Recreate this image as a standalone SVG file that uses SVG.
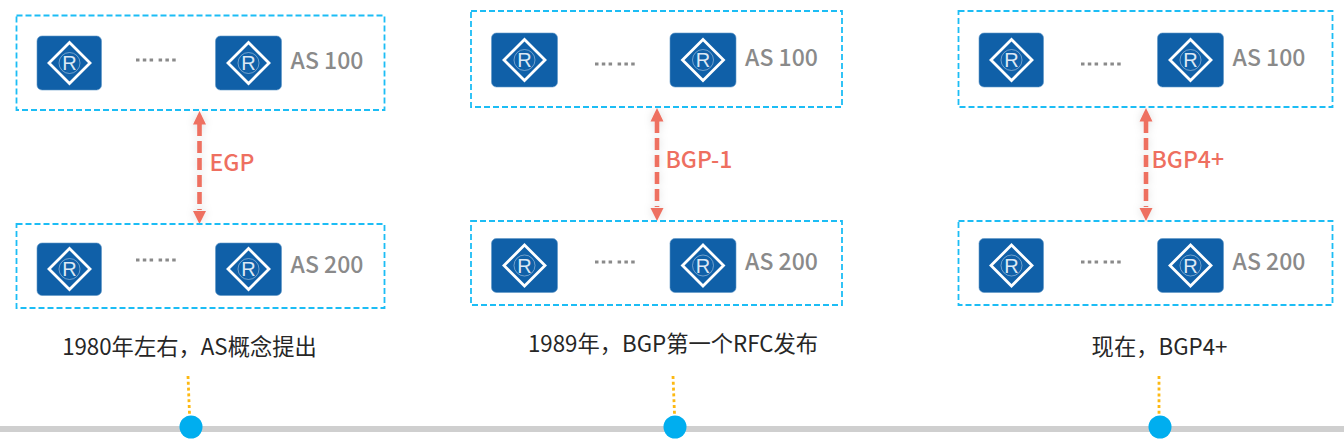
<svg xmlns="http://www.w3.org/2000/svg" width="1344" height="446" viewBox="0 0 1344 446">
<style>
text{font-family:"Noto Sans CJK SC","Noto Sans","Liberation Sans",sans-serif}
.as{fill:none;stroke:#1cbdf5;stroke-width:1.8;stroke-dasharray:6 3}
.rb{fill:#1060a8;stroke:#5f97c8;stroke-width:.6}
.dm{fill:none;stroke:#fff;stroke-width:2.800}
.rc{fill:none;stroke:#cfe0f0;stroke-width:1;opacity:.5}
.rt{font-family:"Liberation Sans",sans-serif;font-size:20px;fill:#dce8f4;text-anchor:middle}
.dots{fill:none;stroke:#8a8a8a;stroke-width:2.800;stroke-dasharray:3.500 3.300 3.500 3.300 3.500 5.500}
.lb{font-size:23px;font-weight:500;fill:#8a8a8a;text-anchor:middle}
.pr{font-size:23px;font-weight:500;fill:#ee6f60}
.cap{font-size:22.300px;fill:#262626;text-anchor:middle}
.br{fill:none;stroke:#ee6f60;stroke-width:4.600;stroke-dasharray:12 5}
.hd{fill:#ee6f60}
.dt{fill:none;stroke:#fdb913;stroke-width:2.800;stroke-dasharray:3 2.800}
.tm{fill:#00aeef}
</style>
<defs>
<filter id="sh" x="-300%" y="-10%" width="700%" height="120%"><feDropShadow dx="0" dy="0" stdDeviation="4" flood-color="#000" flood-opacity=".14"/></filter>
<g id="ic"><path class="dm" d="M0-20.500L20.500 0 0 20.500-20.500 0Z"/><circle class="rc" r="10.500"/><text class="rt" y="7">R</text></g>
<g id="ar" filter="url(#sh)"><path class="hd" d="M0 0L6.500 13.500H-6.500Z"/><path class="br" d="M0 13V99"/><path class="hd" d="M-6.500 100H6.500L0 113Z"/></g>
</defs>
<rect id="timeline" x="0" y="426" width="1344" height="6" fill="#cfcfcf"/>
<g id="connectors">
<use href="#ar" x="199.500" y="111"/>
<use href="#ar" x="657" y="108"/>
<use href="#ar" x="1146" y="108"/>
<path class="dt" d="M188 376L189.500 414"/>
<path class="dt" d="M673 376L674.500 414"/>
<path class="dt" d="M1159 376V414"/>
</g>

<g id="as100-a"><rect class="as" x="16.500" y="15.500" width="368" height="94.500"/>
<rect class="rb" x="37" y="36" width="64.500" height="54" rx="5"/><use href="#ic" x="69.500" y="63"/>
<path class="dots" d="M136 60H177"/>
<rect class="rb" x="215.500" y="36" width="66" height="54" rx="5"/><use href="#ic" x="248.500" y="63"/>
<text class="lb" x="327" y="69">AS 100</text></g>
<g id="as200-a"><rect class="as" x="16.500" y="224" width="368" height="84"/>
<rect class="rb" x="37" y="243" width="64.500" height="52.500" rx="5"/><use href="#ic" x="69.500" y="269"/>
<path class="dots" d="M136 260H177"/>
<rect class="rb" x="215.500" y="243" width="66" height="52.500" rx="5"/><use href="#ic" x="248.500" y="269"/>
<text class="lb" x="327" y="273">AS 200</text></g>
<text class="pr" x="209.500" y="171">EGP</text>
<text class="cap" x="189.500" y="355">1980年左右，AS概念提出</text>
<circle id="t1" class="tm" cx="191" cy="427" r="11.500"/>

<g id="as100-b"><rect class="as" x="471" y="11" width="371" height="96"/>
<rect class="rb" x="491.500" y="33" width="66" height="54" rx="5"/><use href="#ic" x="524.500" y="60"/>
<path class="dots" d="M595 64H636"/>
<rect class="rb" x="670" y="33" width="66" height="54" rx="5"/><use href="#ic" x="703" y="60"/>
<text class="lb" x="781.500" y="66">AS 100</text></g>
<g id="as200-b"><rect class="as" x="471" y="221" width="371" height="84"/>
<rect class="rb" x="491.500" y="238.500" width="66" height="54" rx="5"/><use href="#ic" x="524.500" y="265.500"/>
<path class="dots" d="M595 262H636"/>
<rect class="rb" x="670" y="238.500" width="66" height="54" rx="5"/><use href="#ic" x="703" y="265.500"/>
<text class="lb" x="781.500" y="270">AS 200</text></g>
<text class="pr" x="665.500" y="168">BGP-1</text>
<text class="cap" x="673" y="352">1989年，BGP第一个RFC发布</text>
<circle id="t2" class="tm" cx="675" cy="427" r="11.500"/>

<g id="as100-c"><rect class="as" x="958.500" y="11" width="374" height="96"/>
<rect class="rb" x="979" y="33" width="64.500" height="54" rx="5"/><use href="#ic" x="1011.500" y="60"/>
<path class="dots" d="M1081 64H1122"/>
<rect class="rb" x="1157.500" y="33" width="66" height="54" rx="5"/><use href="#ic" x="1190.500" y="60"/>
<text class="lb" x="1269" y="66">AS 100</text></g>
<g id="as200-c"><rect class="as" x="958.500" y="221" width="374" height="84"/>
<rect class="rb" x="979" y="238.500" width="64.500" height="54" rx="5"/><use href="#ic" x="1011.500" y="265.500"/>
<path class="dots" d="M1081 262H1122"/>
<rect class="rb" x="1157.500" y="238.500" width="66" height="54" rx="5"/><use href="#ic" x="1190.500" y="265.500"/>
<text class="lb" x="1269" y="270">AS 200</text></g>
<text class="pr" x="1151.500" y="168">BGP4+</text>
<text class="cap" x="1159.500" y="355">现在，BGP4+</text>
<circle id="t3" class="tm" cx="1160" cy="427" r="11.500"/>
</svg>
